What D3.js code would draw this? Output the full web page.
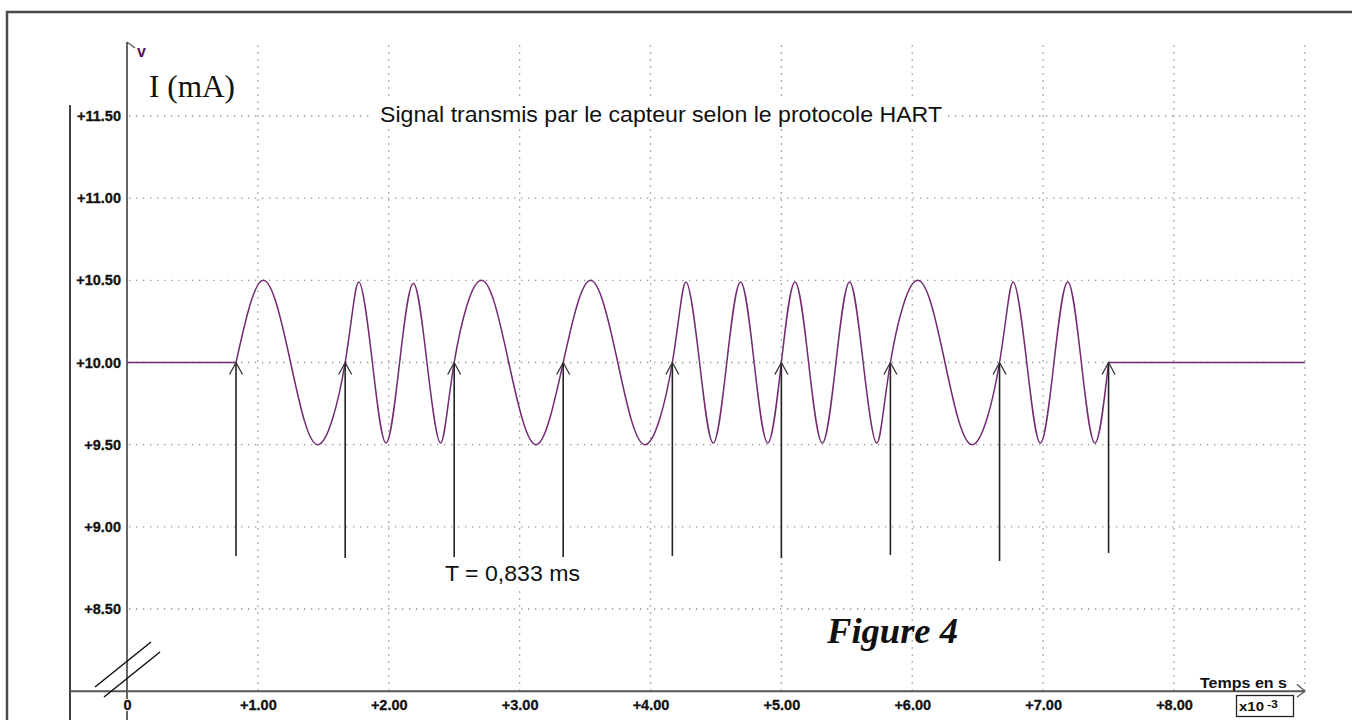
<!DOCTYPE html>
<html><head><meta charset="utf-8">
<script src="https://cdn.jsdelivr.net/npm/d3@7"></script>
<style>
body{margin:0;background:#fff}
svg{display:block}
.sans{font-family:"Liberation Sans",Arial,sans-serif}
.serif{font-family:"Liberation Serif","Times New Roman",serif}
</style>
</head><body>
<svg id="c" width="1352" height="720"></svg>
<script>
// ---------- data ----------
const xTicks = [0, 1, 2, 3, 4, 5, 6, 7, 8];
const xTickLabels = ["0", "+1.00", "+2.00", "+3.00", "+4.00", "+5.00", "+6.00", "+7.00", "+8.00"];
const xGrid = [1, 2, 3, 4, 5, 6, 7, 8, 9];
const yTicks = [8.5, 9.0, 9.5, 10.0, 10.5, 11.0, 11.5];
const yTickLabels = ["+8.50", "+9.00", "+9.50", "+10.00", "+10.50", "+11.00", "+11.50"];

// signal: time (ms) and current (mA), read at flats, crossings, peaks and troughs
const signalT = [0, 0.833,
  1.042, 1.250, 1.458, 1.667,
  1.771, 1.875, 1.979, 2.083, 2.188, 2.292, 2.396, 2.500,
  2.708, 2.917, 3.125, 3.333,
  3.542, 3.750, 3.958, 4.167,
  4.271, 4.375, 4.479, 4.583, 4.688, 4.792, 4.896, 5.000,
  5.104, 5.208, 5.313, 5.417, 5.521, 5.625, 5.729, 5.833,
  6.042, 6.250, 6.458, 6.667,
  6.771, 6.875, 6.979, 7.083, 7.188, 7.292, 7.396, 7.500,
  9.0];
const signalI = [10.00, 10.00,
  10.50, 10.00, 9.50, 10.00,
  10.49, 10.00, 9.51, 10.00, 10.48, 10.00, 9.51, 10.00,
  10.50, 10.00, 9.50, 10.00,
  10.50, 10.00, 9.50, 10.00,
  10.49, 10.00, 9.51, 10.00, 10.49, 10.00, 9.51, 10.00,
  10.49, 10.00, 9.51, 10.00, 10.49, 10.00, 9.51, 10.00,
  10.50, 10.00, 9.50, 10.00,
  10.49, 10.00, 9.51, 10.00, 10.49, 10.00, 9.51, 10.00,
  10.00];

// bit-boundary arrows: time, and current level of their lower end
const arrowT = [0.833, 1.667, 2.500, 3.333, 4.167, 5.000, 5.833, 6.667, 7.500];
const arrowBaseI = [8.823, 8.810, 8.816, 8.816, 8.823, 8.810, 8.829, 8.792, 8.841];
const arrowTipI = 10.0;

const titleText = "Signal transmis par le capteur selon le protocole HART";
const periodText = "T = 0,833 ms";
const yUnitText = "I (mA)";
const xUnitText = "Temps en s";
const figureText = "Figure 4";

// ---------- drawing ----------
const svg = d3.select("#c");
const x = d3.scaleLinear().domain([0, 8]).range([127, 1174]);
const y = d3.scaleLinear().domain([8.5, 11.5]).range([609, 116]);
const yTop = y(11.95), yAxisPos = y(8.0);

// frame
svg.append("path").attr("d", "M7,720 V12 H1352")
  .attr("fill", "none").attr("stroke", "#4a4a4a").attr("stroke-width", 2.5);

// grid
const gridStyle = s => s.attr("stroke", "#949494").attr("stroke-width", 1.3)
  .attr("stroke-dasharray", "1.3,5.7").attr("fill", "none");
svg.append("g").selectAll("line").data(xGrid).join("line")
  .attr("x1", d => x(d)).attr("x2", d => x(d))
  .attr("y1", y(11.93)).attr("y2", yAxisPos - 1)
  .call(gridStyle);
svg.append("g").selectAll("line").data(yTicks).join("line")
  .attr("x1", x(0) + 2).attr("x2", x(9))
  .attr("y1", d => y(d)).attr("y2", d => y(d))
  .call(gridStyle);

// left label rule
svg.append("line").attr("x1", 70).attr("x2", 70).attr("y1", 105).attr("y2", 720)
  .attr("stroke", "#111").attr("stroke-width", 1.6);

// y axis line
svg.append("line").attr("x1", x(0)).attr("x2", x(0)).attr("y1", yTop).attr("y2", 720)
  .attr("stroke", "#555").attr("stroke-width", 1.8);
svg.append("path").attr("d", `M${x(0)},${yTop} L${x(0) + 8},${yTop + 6}`)
  .attr("stroke", "#555").attr("stroke-width", 1.3).attr("fill", "none");
svg.append("text").attr("class", "sans").attr("x", 137).attr("y", 57)
  .attr("font-size", 16).attr("font-weight", "bold").attr("fill", "#5f0f5f").text("v");

// x axis line + arrow
svg.append("line").attr("x1", 70).attr("x2", x(9)).attr("y1", yAxisPos).attr("y2", yAxisPos)
  .attr("stroke", "#555").attr("stroke-width", 2);
svg.append("path").attr("d", `M${x(9) - 8},${yAxisPos - 7} L${x(9)},${yAxisPos} L${x(9) - 8},${yAxisPos + 6}`)
  .attr("stroke", "#555").attr("stroke-width", 1.3).attr("fill", "none");

// axis break marks
svg.append("path").attr("d", "M95,687 L151,642 M104,697 L160,652")
  .attr("stroke", "#111").attr("stroke-width", 1.5).attr("fill", "none");

// y tick labels
const yAx = svg.append("g").attr("transform", "translate(124,0)")
  .call(d3.axisLeft(y).tickValues(yTicks).tickFormat((d, i) => yTickLabels[i]).tickSize(0).tickPadding(3));
yAx.select(".domain").remove();
yAx.selectAll("text").attr("class", "sans").attr("font-family", null)
  .style("font-size", "14.5px").style("font-weight", "bold")
  .attr("fill", "#111").attr("stroke", "#111").attr("stroke-width", 0.3);

// x tick labels
svg.append("rect").attr("x", x(0) - 5).attr("y", 699).attr("width", 10).attr("height", 12).attr("fill", "#fff");
const xAx = svg.append("g").attr("transform", `translate(0,${yAxisPos})`)
  .call(d3.axisBottom(x).tickValues(xTicks).tickFormat((d, i) => xTickLabels[i]).tickSize(0).tickPadding(8.7));
xAx.select(".domain").remove();
xAx.selectAll("text").attr("class", "sans").attr("font-family", null)
  .style("font-size", "14.5px").style("font-weight", "bold")
  .attr("fill", "#111").attr("stroke", "#111").attr("stroke-width", 0.3);

// x unit and multiplier box
svg.append("text").attr("class", "sans").attr("x", 1200).attr("y", 688)
  .attr("font-size", 15).attr("font-weight", "bold").attr("fill", "#111")
  .attr("textLength", 87).attr("lengthAdjust", "spacingAndGlyphs").text(xUnitText);
svg.append("rect").attr("x", 1236.5).attr("y", 695.5).attr("width", 57).attr("height", 21)
  .attr("fill", "#fff").attr("stroke", "#222").attr("stroke-width", 1.3);
svg.append("text").attr("class", "sans").attr("x", 1239).attr("y", 711)
  .attr("font-size", 12.5).attr("font-weight", "bold").attr("fill", "#111")
  .attr("textLength", 25).attr("lengthAdjust", "spacingAndGlyphs").text("x10");
svg.append("text").attr("class", "sans").attr("x", 1267).attr("y", 707.5)
  .attr("font-size", 10).attr("font-weight", "bold").attr("fill", "#111")
  .attr("textLength", 11).attr("lengthAdjust", "spacingAndGlyphs").text("-3");

// title
svg.append("rect").attr("x", 372).attr("y", 100).attr("width", 576).attr("height", 29).attr("fill", "#fff");
svg.append("text").attr("class", "sans").attr("x", 380).attr("y", 122)
  .attr("font-size", 22.5).attr("fill", "#111")
  .attr("textLength", 562).attr("lengthAdjust", "spacingAndGlyphs").text(titleText);

// y unit
svg.append("text").attr("class", "serif").attr("x", 149).attr("y", 97)
  .attr("font-size", 32).attr("fill", "#111")
  .attr("textLength", 86).attr("lengthAdjust", "spacingAndGlyphs").text(yUnitText);

// signal
const pts = signalT.map((t, i) => [t, signalI[i]]);
const n = pts.length;
const flatLine = d3.line().x(d => x(d[0])).y(d => y(d[1]));
const waveLine = d3.line().x(d => x(d[0])).y(d => y(d[1])).curve(d3.curveNatural);
const sigColor = "#722a72";
svg.append("path").attr("d", flatLine(pts.slice(0, 2)))
  .attr("fill", "none").attr("stroke", sigColor).attr("stroke-width", 1.6);
svg.append("path").attr("d", waveLine(pts.slice(1, n - 1)))
  .attr("fill", "none").attr("stroke", sigColor).attr("stroke-width", 1.5).attr("stroke-linejoin", "round");
svg.append("path").attr("d", flatLine(pts.slice(n - 2)))
  .attr("fill", "none").attr("stroke", sigColor).attr("stroke-width", 1.6);

// period label
svg.append("rect").attr("x", 440).attr("y", 559).attr("width", 146).attr("height", 27).attr("fill", "#fff");
svg.append("text").attr("class", "sans").attr("x", 445).attr("y", 580.5)
  .attr("font-size", 22.5).attr("fill", "#111")
  .attr("textLength", 135).attr("lengthAdjust", "spacingAndGlyphs").text(periodText);

// arrows
const ag = svg.append("g").attr("stroke", "#222").attr("fill", "none");
ag.selectAll("line").data(arrowT).join("line")
  .attr("x1", d => x(d)).attr("x2", d => x(d))
  .attr("y1", (d, i) => y(arrowBaseI[i])).attr("y2", y(arrowTipI) + 1)
  .attr("stroke-width", 1.6);
ag.selectAll("path").data(arrowT).join("path")
  .attr("d", d => `M${x(d) - 6.5},${y(arrowTipI) + 12} L${x(d)},${y(arrowTipI)} L${x(d) + 6.5},${y(arrowTipI) + 12}`)
  .attr("stroke-width", 1.3).attr("stroke", "#333");

// figure label
svg.append("text").attr("class", "serif").attr("x", 827).attr("y", 643)
  .attr("font-size", 36).attr("font-weight", "bold").attr("font-style", "italic").attr("fill", "#111")
  .attr("textLength", 131).attr("lengthAdjust", "spacingAndGlyphs").text(figureText);
</script>
</body></html>
